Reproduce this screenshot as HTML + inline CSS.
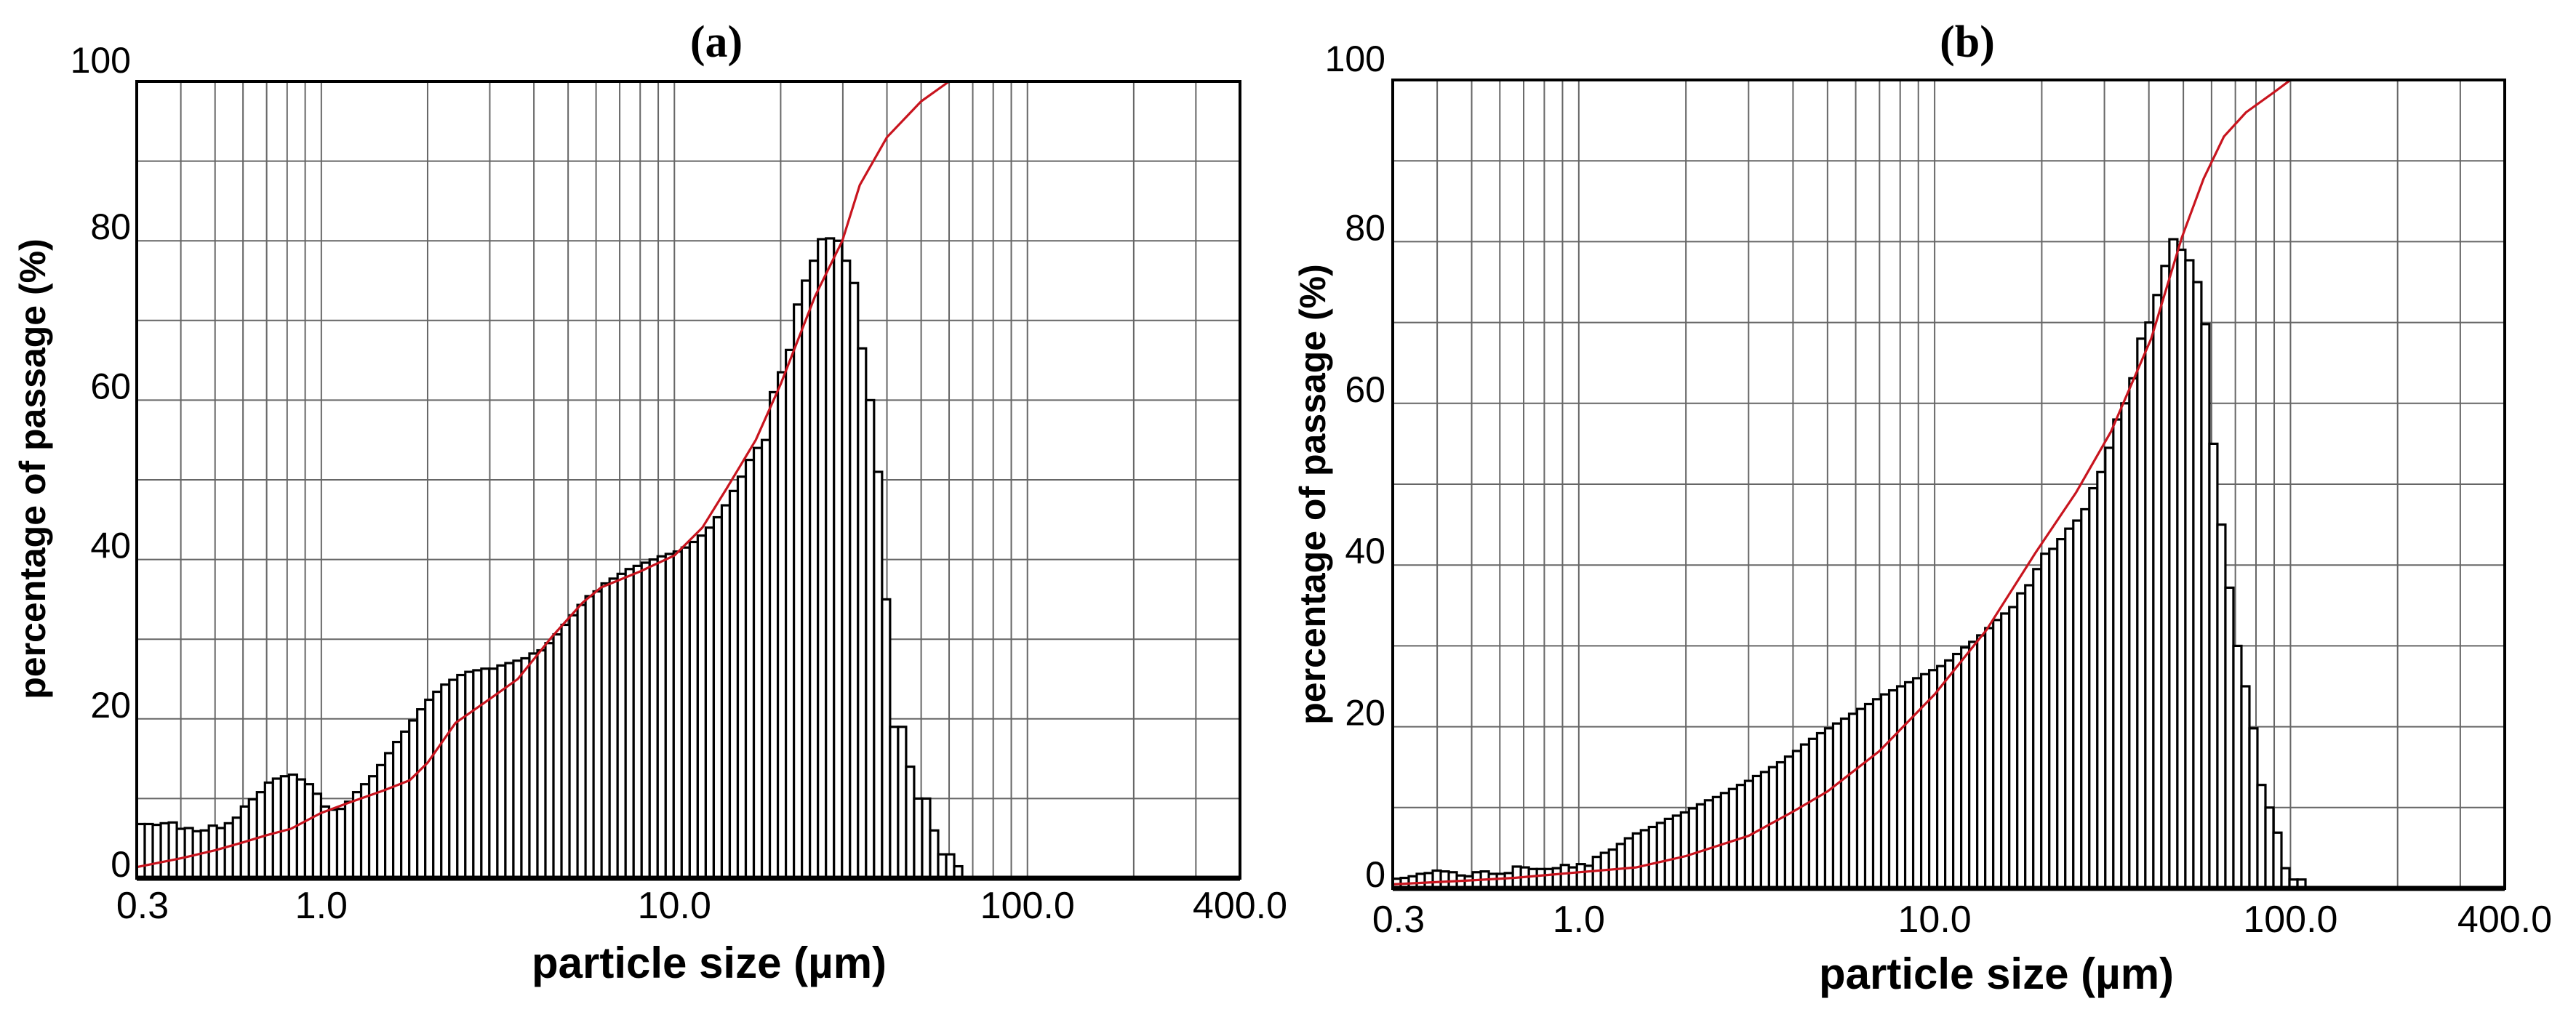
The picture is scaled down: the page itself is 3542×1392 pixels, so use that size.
<!DOCTYPE html>
<html><head><meta charset="utf-8"><style>
html,body{margin:0;padding:0;background:#fff;}
svg{display:block;font-family:"Liberation Sans",sans-serif;}
</style></head><body>
<svg id="fig" width="3542" height="1392" viewBox="0 0 3542 1392" xmlns="http://www.w3.org/2000/svg">
<rect x="0" y="0" width="3542" height="1392" fill="#fff"/>
<text x="985" y="78" font-family="Liberation Serif, serif" font-weight="bold" font-size="62" text-anchor="middle">(a)</text>
<text x="2705" y="78" font-family="Liberation Serif, serif" font-weight="bold" font-size="62" text-anchor="middle">(b)</text>
<g id="chartA"></g>
<g id="chartB"></g>
</svg>
<script>
// ---- data ----
const xTickValues = [0.3, 1, 10, 100, 400];
const xTickLabels = ["0.3", "1.0", "10.0", "100.0", "400.0"];
const yTickValues = [0, 20, 40, 60, 80, 100];
const yTickLabels = ["0", "20", "40", "60", "80", "100"];

const binStartA = 0.3;
const binStepA = 0.0227; // decades per bin
const barsA = [6.8,6.8,6.7,6.9,7.0,6.2,6.3,5.9,6.0,6.6,6.3,6.9,7.6,
 9.0,9.9,10.8,12.0,12.5,12.8,13.0,12.4,11.8,10.6,9.0,8.6,8.7,9.6,10.8,11.8,
 12.8,14.2,15.7,17.1,18.4,19.8,21.2,22.4,23.4,24.3,24.9,25.5,25.9,26.1,26.3,26.3,26.7,27.0,27.3,27.6,28.2,28.6,29.5,30.6,31.8,33.0,34.3,35.4,36.0,37.0,
 37.6,38.2,38.8,39.2,39.6,40.0,40.4,40.7,41.0,41.5,42.2,43.0,44.0,45.3,46.8,48.6,50.4,52.5,54.0,55.0,
 61,63.5,66.3,72,75,77.5,80.2,80.3,80,77.5,74.7,66.5,60,51,35,19,19,14,10,10,6,3,3,1.5];
const cumSizesA = [0.3,0.4,0.5,0.6,0.7,0.82,1.0,1.2,1.5,1.78,2.0,2.4,3.0,3.6,4.5,5.5,6.2,8,10,12,14.1,17,20,25,29.9,33.5,40,50,60];
const cumValuesA = [1.4,2.5,3.5,4.5,5.4,6.2,8.2,9.5,11,12.3,14.5,19.5,22.5,25,30.3,34.6,36.5,38.5,40.5,44,49,55,62,73,80,87,93,97.5,100];

const binStartB = 0.3;
const binStepB = 0.0225;
const barsB = [1.2,1.3,1.5,1.8,1.9,2.2,2.1,2.0,1.6,1.5,2.0,2.1,1.8,1.8,1.9,2.7,2.6,2.4,2.4,2.4,2.5,2.9,2.6,3.0,2.8,3.9,4.4,4.8,5.5,6.2,
 6.8,7.2,7.6,8.1,8.6,9.0,9.4,9.9,10.4,10.9,11.3,11.8,12.3,12.8,13.3,13.9,14.4,15.0,15.6,16.3,17.0,17.8,18.5,19.2,19.8,20.4,21.0,21.6,22.2,22.8,23.4,24.0,24.5,25.0,25.5,26.0,26.5,27.0,27.5,28.2,29.0,29.8,30.5,31.3,32.2,33.2,34.0,34.8,
 36.5,37.5,39.5,41.4,42,43.2,44.5,45.5,46.9,49.5,51.5,54.5,58,60,63.1,68,70,73.4,77,80.3,79,77.7,75,69.8,55,45,37.2,30,25,19.8,12.8,10,6.9,2.5,1.1,1.1];
const cumSizesB = [0.3,0.5,0.66,1.0,1.45,2,3,4,5,7,10,14,19.2,25,31.3,40.6,49.5,57,65,75,90,100];
const cumValuesB = [0.5,1.0,1.3,2.0,2.6,4,6.5,9.5,12,17,24,32,41.5,49,56.5,68,80.5,87.8,93,96,98.5,100];

const NS = "http://www.w3.org/2000/svg";
function mk(tag, attrs, parent) {
  const e = document.createElementNS(NS, tag);
  for (const k in attrs) e.setAttribute(k, attrs[k]);
  parent.appendChild(e);
  return e;
}

function drawChart(g, L, R, T, B, bars, binStart, binStep, cumS, cumV, labelBase, yTitleX, yTitleY, xTitleX, xTitleY, yLabelX) {
  const lmin = Math.log10(0.3), lmax = Math.log10(400);
  const xs = v => L + (Math.log10(v) - lmin) / (lmax - lmin) * (R - L);
  const ys = v => B - v / 100 * (B - T);
  const grid = [];
  [0.1, 1, 10, 100].forEach(d => { for (let k = 1; k <= 9; k++) grid.push(d * k); });
  grid.forEach(v => {
    if (v <= 0.3 || v >= 400) return;
    const ln = mk("line", {x1: xs(v), x2: xs(v), y1: T, y2: B, stroke: "#666", "stroke-width": 2}, g);
    
    
  });
  for (let v = 10; v < 100; v += 10) {
    const ln = mk("line", {x1: L, x2: R, y1: ys(v), y2: ys(v), stroke: "#666", "stroke-width": 2}, g);
    
    
  }
  const l0 = Math.log10(binStart);
  bars.forEach((h, i) => {
    const x0 = xs(Math.pow(10, l0 + i * binStep));
    const x1 = xs(Math.pow(10, l0 + (i + 1) * binStep));
    const r = mk("rect", {x: x0, y: ys(h), width: x1 - x0, height: B - ys(h), fill: "#fff", stroke: "#000", "stroke-width": 3.2}, g);
    
    
  });
  const pts = cumS.map((s, i) => xs(s).toFixed(1) + "," + ys(cumV[i]).toFixed(1)).join(" ");
  const pl = mk("polyline", {points: pts, fill: "none", stroke: "#c8141e", "stroke-width": 3.2, "stroke-linejoin": "round"}, g);
  
  
  const fr = mk("rect", {x: L, y: T, width: R - L, height: B - T, fill: "none", stroke: "#000", "stroke-width": 4}, g);
  
  
  const bl = mk("line", {x1: L, x2: R, y1: B, y2: B, stroke: "#000", "stroke-width": 7}, g);
  
  
  yTickValues.forEach((v, i) => {
    const t = mk("text", {x: yLabelX, y: ys(v) - (v === 100 ? 12 : 2), "font-size": 50, "text-anchor": "end"}, g);
    t.textContent = yTickLabels[i];
    
    
  });
  xTickValues.forEach((v, i) => {
    const t = mk("text", {x: xs(v) + (i === 0 ? 8 : 0), y: labelBase, "font-size": 52, "text-anchor": "middle"}, g);
    t.textContent = xTickLabels[i];
    
    
  });
  const xt = mk("text", {x: xTitleX, y: xTitleY, "font-size": 60, "font-weight": "bold", "text-anchor": "middle"}, g);
  xt.textContent = "particle size (µm)";
  
  
  const yt = mk("text", {x: 0, y: 0, "font-size": 50, "font-weight": "bold", "text-anchor": "middle", transform: "translate(" + yTitleX + "," + yTitleY + ") rotate(-90)"}, g);
  yt.textContent = "percentage of passage (%)";
  
  
}

drawChart(document.getElementById("chartA"), 188, 1705, 112, 1208, barsA, binStartA, binStepA, cumSizesA, cumValuesA, 1263, 62, 645, 975, 1345, 180);
drawChart(document.getElementById("chartB"), 1915, 3444, 110, 1222, barsB, binStartB, binStepB, cumSizesB, cumValuesB, 1282, 1822, 680, 2745, 1360, 1905);
</script>
</body></html>
